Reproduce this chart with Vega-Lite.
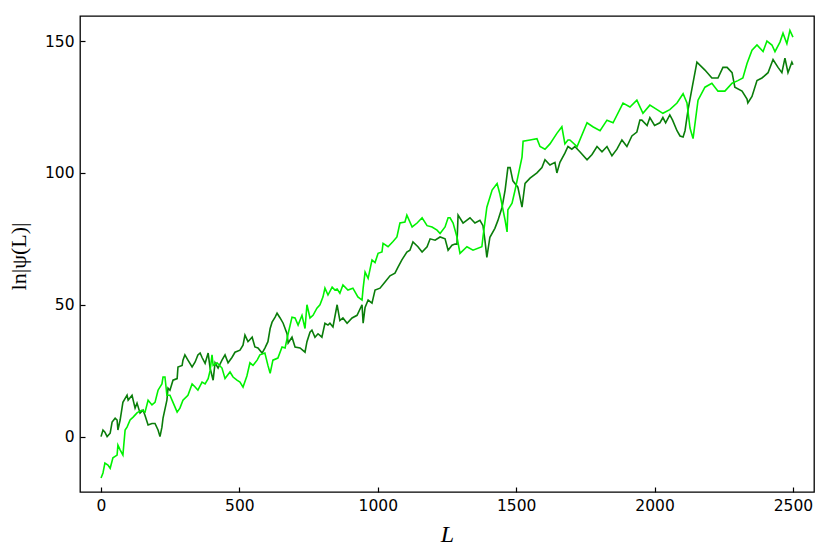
{
  "$schema": "https://vega.github.io/schema/vega-lite/v6.json",
  "autosize": "none",
  "width": 734,
  "height": 476,
  "padding": {"left": 80, "top": 16, "right": 16, "bottom": 62},
  "background": "white",
  "config": {
    "view": {"stroke": "#000000", "strokeWidth": 1.3},
    "axis": {"grid": false, "domain": false, "tickColor": "#000000", "tickWidth": 1.2, "tickSize": -5, "labelFont": "DejaVu Sans", "labelFontSize": 15.5, "labelColor": "#000000", "titleColor": "#000000", "titleFontWeight": "normal"}
  },
  "datasets": {
    "dark": [
      [0,0],[7,2.5],[14,1.7],[22,0],[33,1.3],[40,5.5],[51,7],[58,6.3],[61,2.5],[69,6.3],[79,13],[94,15.7],[98,13.8],[112,15.7],[123,10.8],[130,12.7],[141,8.9],[152,10],[159,8],[170,4.4],[184,5],[195,5],[206,2.5],[213,0],[220,3.6],[224,7],[238,13.8],[242,18.4],[249,17.6],[260,21.4],[275,22],[278,26.4],[293,27],[296,29],[303,31],[314,29],[329,26.4],[340,28.3],[350,31],[358,31.7],[365,30],[376,27.8],[387,31.7],[394,26],[405,21.4],[412,28],[423,26],[437,29],[448,31],[459,28],[473,30],[484,32],[502,32.8],[513,34.7],[520,38.5],[531,36],[546,37.7],[556,34],[567,33.6],[582,31.7],[592,33.6],[603,36],[611,41],[618,43.4],[629,45.3],[636,46.8],[647,45],[658,43],[672,39],[676,35.5],[690,37.7],[701,34],[719,33.6],[737,32],[744,36],[755,39.6],[762,40.4],[773,37.7],[784,39],[798,37.7],[809,43],[820,42.3],[827,43],[838,41.6],[853,50],[863,44],[874,45],[889,43],[907,45],[925,46],[943,50],[947,43],[954,49],[965,51.8],[979,50.6],[990,55.6],[1008,56.3],[1026,58.6],[1044,61],[1062,62],[1073,64.3],[1087,67],[1105,70],[1116,70.7],[1127,73.8],[1145,72],[1160,70],[1178,72],[1189,75],[1207,74.5],[1225,75.7],[1243,75],[1254,70.7],[1268,72.6],[1279,73],[1286,73],[1290,84],[1308,81],[1333,83],[1351,81],[1369,82],[1380,80],[1387,74.5],[1394,68],[1405,75.6],[1423,79],[1434,82],[1449,87],[1460,93.5],[1470,102],[1478,102],[1488,97],[1506,94.6],[1521,87],[1532,96],[1550,98],[1575,100],[1593,102],[1604,105],[1622,103],[1640,104],[1647,100],[1658,104],[1676,107.5],[1687,110],[1701,109],[1712,110],[1730,108],[1756,105],[1774,107],[1792,110],[1810,108],[1828,110],[1846,106.5],[1864,109],[1882,112.5],[1900,110],[1918,114],[1936,115.5],[1947,120],[1954,120],[1973,118],[1983,121],[2000,118],[2019,119],[2030,121],[2040,119],[2055,122],[2065,120],[2081,116],[2092,114],[2103,113.6],[2110,116],[2121,124],[2135,132],[2153,142],[2182,139],[2207,136],[2229,136],[2247,140],[2262,140],[2280,138],[2290,132.5],[2316,131],[2334,128],[2337,126.5],[2352,129],[2370,135],[2388,136],[2410,138],[2428,143],[2446,140],[2460,138],[2471,143.5],[2482,138],[2496,142],[2500,141]
    ],
    "light": [
      [0,-15.7],[7,-13.8],[14,-10],[25,-10.8],[33,-12],[43,-8],[58,-7],[61,-3.2],[69,-5],[79,-7],[87,2.5],[94,3.6],[105,6.3],[116,7.4],[130,9],[134,9.3],[148,10],[159,9.3],[170,13.8],[184,12],[195,13],[206,17.6],[220,20],[224,22.6],[231,22.6],[238,15.7],[249,15.7],[260,13],[275,9.3],[285,10.8],[296,13.8],[314,15.7],[329,20],[340,18.8],[350,17.6],[365,20.7],[376,20],[387,22],[394,25],[401,31],[405,27],[419,28],[437,26],[448,22],[466,24.5],[477,22.6],[491,21.4],[502,20.7],[513,18.8],[527,23],[538,28],[549,27],[564,29],[574,31],[592,31.7],[603,27],[611,24],[621,29],[639,29.8],[654,34],[665,33.6],[676,39],[690,45.3],[701,45],[712,42.3],[726,46],[737,41],[744,50],[755,45],[766,46],[780,48.7],[791,50],[802,53],[809,56.3],[820,53.7],[835,56.7],[845,55.6],[853,56],[863,54.4],[874,57.5],[892,55.6],[910,56.3],[928,53],[943,51.8],[947,56.3],[954,62.4],[965,60],[979,67],[990,66],[1001,69.5],[1015,70],[1019,73.3],[1037,72],[1055,74],[1069,75.7],[1080,81],[1098,81.4],[1105,84],[1124,79.5],[1142,81],[1160,83],[1178,80],[1196,79.5],[1214,78.3],[1225,77],[1243,79.5],[1254,83],[1261,83],[1272,81],[1286,75.7],[1297,69.5],[1322,72],[1344,70.7],[1376,72],[1380,75.7],[1394,87],[1413,93.5],[1431,96],[1441,92],[1460,82],[1467,77.6],[1470,86],[1485,88.5],[1496,93.5],[1506,98.5],[1521,106],[1525,112],[1550,112.5],[1575,113],[1586,110],[1604,109],[1622,111],[1647,115],[1665,117.5],[1676,111],[1687,112.5],[1694,112.5],[1720,110],[1756,119],[1777,117.5],[1803,116],[1828,120],[1850,119],[1886,126.5],[1911,125],[1936,127.6],[1958,122.6],[1983,125.7],[2009,124],[2030,122.6],[2055,124],[2081,126.5],[2103,130],[2117,126.5],[2128,117],[2139,113],[2157,127.6],[2182,132.5],[2207,134],[2229,131],[2254,131],[2280,134],[2301,135],[2319,136],[2334,141.5],[2352,146.5],[2370,148.5],[2392,146],[2406,150],[2424,148.5],[2435,146],[2453,149.6],[2464,153],[2478,149],[2489,154],[2500,151.5]
    ]
  },
  "layer": [
    {
      "data": {"name": "dark"},
      "transform": [{"calculate": "datum[0]", "as": "L"}, {"calculate": "datum[1]", "as": "v"}],
      "mark": {"type": "line", "color": "#0a7d0a", "strokeWidth": 1.6, "clip": true},
      "encoding": {
        "x": {"field": "L", "type": "quantitative", "scale": {"domain": [-76, 2576], "nice": false, "zero": false},
          "axis": {"values": [0, 500, 1000, 1500, 2000, 2500], "format": "d", "title": "L", "titleFont": "Liberation Serif", "titleFontStyle": "italic", "titleFontSize": 24, "labelPadding": 11, "titleX": 367, "titleY": 42, "titleBaseline": "middle"}},
        "y": {"field": "v", "type": "quantitative", "scale": {"domain": [-21, 159.5], "nice": false, "zero": false},
          "axis": {"values": [0, 50, 100, 150], "format": "d", "title": "ln|ψ(L)|", "titleFont": "Liberation Serif", "titleFontSize": 22, "labelPadding": 11, "titleX": -62, "titleY": 240, "titleBaseline": "middle", "titleAngle": -90}}
      }
    },
    {
      "data": {"name": "light"},
      "transform": [{"calculate": "datum[0]", "as": "L"}, {"calculate": "datum[1]", "as": "v"}],
      "mark": {"type": "line", "color": "#00f200", "strokeWidth": 1.6, "clip": true},
      "encoding": {
        "x": {"field": "L", "type": "quantitative"},
        "y": {"field": "v", "type": "quantitative"}
      }
    }
  ]
}
